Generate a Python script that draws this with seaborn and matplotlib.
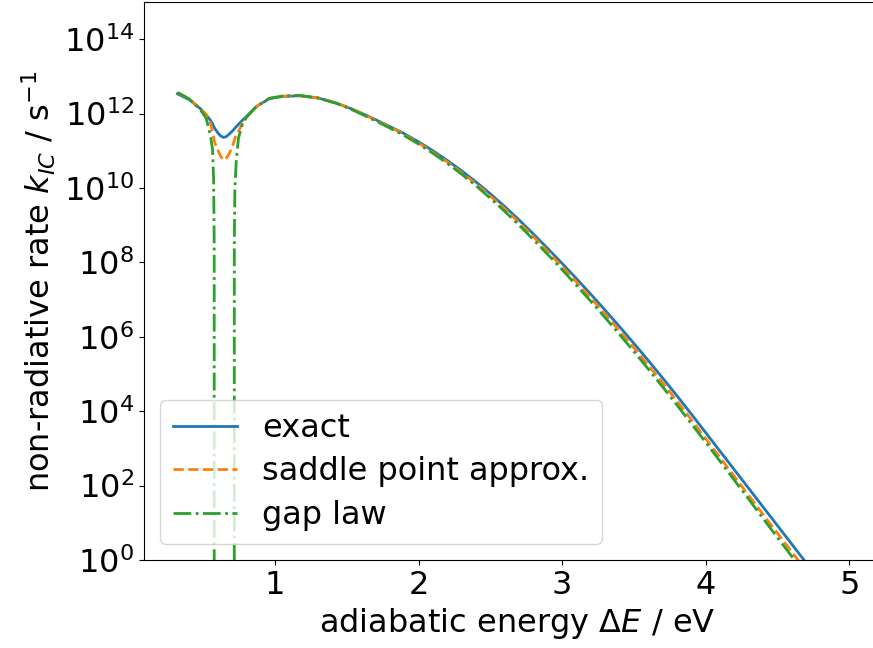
import numpy as np
import pandas as pd
import matplotlib
matplotlib.use("Agg")
import matplotlib.pyplot as plt
import seaborn as sns

# adiabatic energy grid (eV)
energy = [0.32, 0.40, 0.48, 0.52, 0.55, 0.565, 0.572, 0.576, 0.58, 0.60, 0.62, 0.64,
          0.66, 0.68, 0.70, 0.712, 0.716, 0.72, 0.73, 0.745, 0.77, 0.80, 0.87, 0.96,
          1.05, 1.17, 1.30, 1.43, 1.55, 1.66, 1.78, 1.89,
          2.00, 2.10, 2.20, 2.30, 2.40, 2.50, 2.60, 2.70, 2.80, 2.90,
          3.00, 3.10, 3.20, 3.30, 3.40, 3.50, 3.60, 3.70, 3.80, 3.90,
          4.00, 4.10, 4.20, 4.30, 4.40, 4.50, 4.60, 4.70, 4.80, 4.90]

# log10 of the rate k_IC (s^-1)
log_k_exact = [12.53, 12.38, 12.13, 11.97, 11.82, 11.72, 11.66, 11.63, 11.60, 11.49, 11.40, 11.36,
               11.38, 11.45, 11.52, 11.57, 11.59, 11.61, 11.65, 11.71, 11.81, 11.92, 12.19, 12.40,
               12.46, 12.48, 12.42, 12.28, 12.10, 11.91, 11.69, 11.48,
               11.24, 11.00, 10.74, 10.46, 10.16, 9.84, 9.50, 9.14, 8.76, 8.37,
               7.97, 7.56, 7.14, 6.71, 6.27, 5.82, 5.36, 4.89, 4.41, 3.92,
               3.42, 2.92, 2.42, 1.92, 1.42, 0.92, 0.42, -0.08, -0.58, -1.08]

log_k_saddle = [12.56, 12.40, 12.14, 11.97, 11.75, 11.47, 11.36, 11.28, 11.22, 11.03, 10.86, 10.75,
                10.80, 10.92, 11.10, 11.22, 11.27, 11.33, 11.43, 11.52, 11.72, 11.90, 12.19, 12.41,
                12.47, 12.48, 12.42, 12.28, 12.10, 11.90, 11.68, 11.46,
                11.21, 10.96, 10.70, 10.41, 10.11, 9.78, 9.44, 9.07, 8.69, 8.29,
                7.88, 7.47, 7.04, 6.60, 6.16, 5.70, 5.23, 4.76, 4.27, 3.77,
                3.26, 2.75, 2.24, 1.73, 1.22, 0.72, 0.21, -0.29, -0.79, -1.30]

NEG = float("-inf")  # gap law rate drops to zero / negative here
log_k_gap = [12.57, 12.40, 12.10, 11.88, 11.40, 11.02, 10.20, 8.50, NEG, NEG, NEG, NEG,
             NEG, NEG, NEG, NEG, 8.50, 10.00, 10.75, 11.34, 11.68, 11.90, 12.19, 12.41,
             12.47, 12.49, 12.42, 12.27, 12.08, 11.88, 11.65, 11.43,
             11.18, 10.93, 10.66, 10.37, 10.06, 9.72, 9.37, 9.00, 8.61, 8.21,
             7.80, 7.38, 6.95, 6.51, 6.06, 5.60, 5.13, 4.65, 4.16, 3.66,
             3.16, 2.65, 2.14, 1.63, 1.11, 0.60, 0.09, -0.41, -0.92, -1.43]

series_labels = ["exact", "saddle point approx.", "gap law"]
x_ticks = [1, 2, 3, 4, 5]
y_tick_exponents = [0, 2, 4, 6, 8, 10, 12, 14]

FS = 23.0
plt.rcParams["font.family"] = ["DejaVu Sans"]
plt.rcParams["font.size"] = FS
plt.rcParams["mathtext.fontset"] = "dejavusans"

fig = plt.figure(figsize=(8.73, 6.48), dpi=100)
# the right edge of the axes lies just beyond the figure (cropped in the reference)
ax = fig.add_axes([144 / 873, 1 - 560 / 648, (891 - 144) / 873, (560 - 2) / 648])

colors = ["#1f77b4", "#ff7f0e", "#2ca02c"]
styles = ["-", "--", "-."]
for lab, logs, c, ls in zip(series_labels, [log_k_exact, log_k_saddle, log_k_gap], colors, styles):
    df = pd.DataFrame({"E": energy, "k": np.power(10.0, np.array(logs, dtype=float))})
    sns.lineplot(data=df, x="E", y="k", ax=ax, color=c, linestyle=ls, label=lab,
                 linewidth=2.0, estimator=None, sort=False)

ax.set_yscale("log")
ax.set_ylim(1, 1e15)
ax.set_xlim(0.087, 5.29)
ax.set_xticks(x_ticks)
ax.set_xticklabels([str(t) for t in x_ticks])
ax.set_yticks([10.0 ** e for e in y_tick_exponents])
ax.set_yticklabels([f"$10^{{{e}}}$" for e in y_tick_exponents])
ax.minorticks_off()
ax.tick_params(labelsize=FS)

ax.set_xlabel(r"adiabatic energy $\Delta E$ / eV", fontsize=FS)
ax.set_ylabel(r"non-radiative rate $k_{IC}$ / s$^{-1}$", fontsize=FS)
ax.legend(loc="lower left", fontsize=FS, labelspacing=0.4)

fig.savefig("out.png", dpi=100)
